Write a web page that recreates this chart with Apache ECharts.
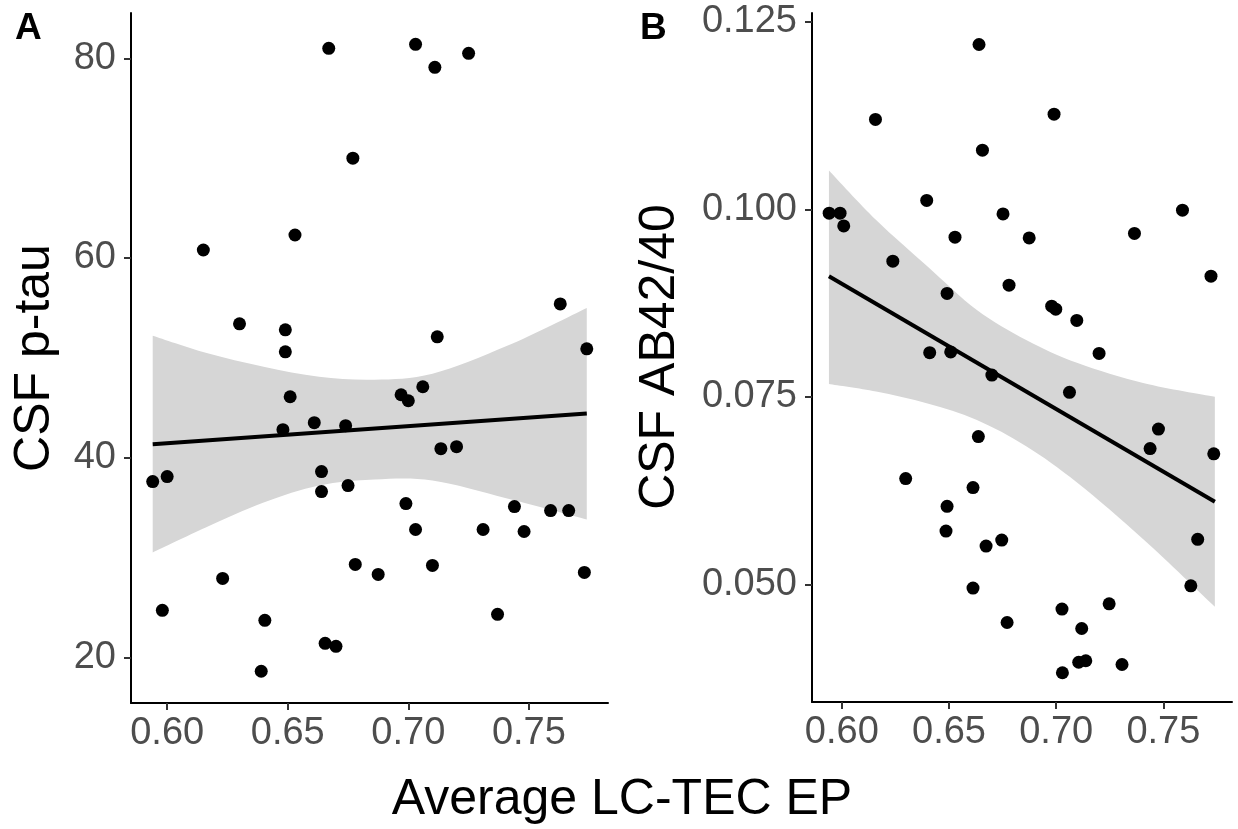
<!DOCTYPE html>
<html>
<head>
<meta charset="utf-8">
<script src="https://cdn.jsdelivr.net/npm/echarts@6/dist/echarts.min.js"></script>
<style>
  html, body { margin: 0; padding: 0; background: #ffffff; }
  #chart { width: 1238px; height: 829px; }
</style>
</head>
<body>
<div id="chart"></div>
<script>
// Panel A: CSF p-tau vs average LC-TEC EP
const lcTecA = [0.667, 0.703, 0.711, 0.725, 0.677, 0.615, 0.653, 0.763, 0.630, 0.649,
  0.649, 0.712, 0.774, 0.651, 0.697, 0.700, 0.706, 0.648, 0.661, 0.674,
  0.7135, 0.720, 0.594, 0.600, 0.664, 0.664, 0.675, 0.699, 0.703, 0.731,
  0.744, 0.748, 0.759, 0.7665, 0.623, 0.678, 0.6875, 0.710, 0.773, 0.598,
  0.6405, 0.737, 0.6655, 0.670, 0.639];
const pTau = [81.0, 81.4, 79.1, 80.5, 70.0, 60.8, 62.3, 55.4, 53.4, 52.8,
  50.6, 52.1, 50.9, 46.1, 46.3, 45.7, 47.1, 42.8, 43.5, 43.2,
  40.9, 41.1, 37.6, 38.1, 38.6, 36.6, 37.2, 35.4, 32.8, 32.8,
  35.1, 32.6, 34.7, 34.7, 27.9, 29.3, 28.3, 29.2, 28.5, 24.7,
  23.7, 24.3, 21.4, 21.1, 18.6];

// Panel B: CSF AB42/40 vs average LC-TEC EP
const lcTecB = [0.664, 0.6157, 0.699, 0.6656, 0.6396, 0.5941, 0.5992, 0.6009, 0.6752, 0.7589,
  0.6528, 0.6874, 0.7365, 0.6238, 0.7722, 0.6491, 0.6780, 0.6979, 0.6998, 0.7096,
  0.6410, 0.6508, 0.7200, 0.6700, 0.7062, 0.7477, 0.7438, 0.7735, 0.6637, 0.6298,
  0.6612, 0.6491, 0.6486, 0.6673, 0.6746, 0.7660, 0.6612, 0.7628, 0.6771, 0.7027,
  0.7247, 0.7119, 0.7105, 0.7138, 0.7307, 0.7029];
const ab4240 = [0.1220, 0.1120, 0.1127, 0.1079, 0.1012, 0.0995, 0.0995, 0.0978, 0.0994, 0.0999,
  0.0963, 0.0962, 0.0968, 0.0931, 0.0911, 0.0888, 0.0899, 0.0871, 0.0867, 0.0852,
  0.0809, 0.0810, 0.0808, 0.0779, 0.0756, 0.0707, 0.0681, 0.0674, 0.0697, 0.0641,
  0.0629, 0.0604, 0.0571, 0.0551, 0.0559, 0.0560, 0.0495, 0.0498, 0.0449, 0.0467,
  0.0474, 0.0441, 0.0396, 0.0398, 0.0393, 0.0382];

// Linear fits and their 95% confidence bands
const fitX = [0.594, 0.774];
const fitPTau = [41.33, 44.43];
const fitAB = [0.0911, 0.0610];
const bandX = [0.594, 0.616, 0.640, 0.663, 0.686, 0.710, 0.741, 0.774];
const bandLowPTau = [30.5, 33.0, 35.5, 37.2, 37.8, 37.7, 35.9, 33.8];
const bandHighPTau = [52.2, 50.5, 49.1, 48.1, 47.8, 48.4, 51.2, 55.0];
const bandLowAB = [0.0767, 0.0757, 0.0741, 0.0719, 0.0684, 0.0635, 0.0559, 0.0470];
const bandHighAB = [0.1052, 0.0986, 0.0924, 0.0866, 0.0826, 0.0795, 0.0768, 0.0750];

// Tick labels
const xTicks = [0.60, 0.65, 0.70, 0.75];
const yTicksPTau = [20, 40, 60, 80];
const yTicksAB = [0.050, 0.075, 0.100, 0.125];

const FONT = "'Liberation Sans', Arial, Helvetica, sans-serif";
const zip = (xs, ys) => xs.map((x, i) => [x, ys[i]]);

function xAxisFor(gridIndex, min, max) {
  return {
    type: 'value', gridIndex, min, max, z: 10,
    axisLine: { show: true, onZero: false, lineStyle: { color: '#000000', width: 2 } },
    axisTick: { show: true, length: 7, customValues: xTicks, lineStyle: { color: '#333333', width: 2 } },
    axisLabel: { customValues: xTicks, margin: 12, color: '#4d4d4d', fontSize: 38, fontFamily: FONT,
      formatter: v => v.toFixed(2) },
    splitLine: { show: false }
  };
}
function yAxisFor(gridIndex, min, max, ticks, digits) {
  return {
    type: 'value', gridIndex, min, max, z: 10,
    axisLine: { show: true, onZero: false, lineStyle: { color: '#000000', width: 2 } },
    axisTick: { show: true, length: 7, customValues: ticks, lineStyle: { color: '#333333', width: 2 } },
    axisLabel: { customValues: ticks, margin: 15, color: '#4d4d4d', fontSize: 38, fontFamily: FONT,
      formatter: v => v.toFixed(digits) },
    splitLine: { show: false }
  };
}

// Smooth path (Catmull-Rom as cubic Béziers) through pixel points; continues from the current point.
function splineSegments(pts) {
  let d = '';
  for (let i = 0; i < pts.length - 1; i++) {
    const p0 = pts[Math.max(i - 1, 0)], p1 = pts[i], p2 = pts[i + 1], p3 = pts[Math.min(i + 2, pts.length - 1)];
    const c1 = [p1[0] + (p2[0] - p0[0]) / 6, p1[1] + (p2[1] - p0[1]) / 6];
    const c2 = [p2[0] - (p3[0] - p1[0]) / 6, p2[1] - (p3[1] - p1[1]) / 6];
    d += ' C' + c1[0] + ' ' + c1[1] + ' ' + c2[0] + ' ' + c2[1] + ' ' + p2[0] + ' ' + p2[1];
  }
  return d;
}

// Confidence band drawn as one closed shape between its lower and upper edges.
function bandSeries(idx, lo, hi) {
  return {
    type: 'custom', xAxisIndex: idx, yAxisIndex: idx, silent: true, z: 1,
    data: [[bandX[0], lo[0]]],
    renderItem: (params, api) => {
      const upper = bandX.map((x, i) => api.coord([x, hi[i]]));
      const lower = bandX.map((x, i) => api.coord([x, lo[i]])).reverse();
      const d = 'M' + upper[0][0] + ' ' + upper[0][1] + splineSegments(upper) +
        ' L' + lower[0][0] + ' ' + lower[0][1] + splineSegments(lower) + ' Z';
      return { type: 'path', shape: { pathData: d }, style: { fill: '#d6d6d6', stroke: null } };
    }
  };
}

function panelSeries(idx, xs, ys, lo, hi, fit) {
  return [
    bandSeries(idx, lo, hi),
    { type: 'line', xAxisIndex: idx, yAxisIndex: idx, symbol: 'none', silent: true, z: 2,
      lineStyle: { color: '#000000', width: 4 },
      data: zip(fitX, fit) },
    { type: 'scatter', xAxisIndex: idx, yAxisIndex: idx, symbolSize: 13, z: 3,
      itemStyle: { color: '#000000', opacity: 1 },
      data: zip(xs, ys) }
  ];
}

const chart = echarts.init(document.getElementById('chart'), null, { renderer: 'canvas' });
chart.setOption({
  animation: false,
  backgroundColor: '#ffffff',
  grid: [
    { left: 131, top: 13, width: 477, height: 690 },
    { left: 812, top: 13, width: 420, height: 689 }
  ],
  xAxis: [xAxisFor(0, 0.585, 0.7828), xAxisFor(1, 0.5861, 0.7820)],
  yAxis: [yAxisFor(0, 15.42, 84.54, yTicksPTau, 0), yAxisFor(1, 0.0343, 0.1262, yTicksAB, 3)],
  series: [
    ...panelSeries(0, lcTecA, pTau, bandLowPTau, bandHighPTau, fitPTau),
    ...panelSeries(1, lcTecB, ab4240, bandLowAB, bandHighAB, fitAB)
  ],
  graphic: [
    { type: 'text', x: 15, y: 29, style: { text: 'A', font: 'bold 37px ' + FONT, fill: '#000000', textVerticalAlign: 'middle' } },
    { type: 'text', x: 640, y: 29, style: { text: 'B', font: 'bold 37px ' + FONT, fill: '#000000', textVerticalAlign: 'middle' } },
    { type: 'text', x: 35, y: 358, rotation: Math.PI / 2,
      style: { text: 'CSF p-tau', font: '50px ' + FONT, fill: '#000000', textAlign: 'center', textVerticalAlign: 'middle' } },
    { type: 'text', x: 660, y: 357, rotation: Math.PI / 2,
      style: { text: 'CSF AB42/40', font: '50px ' + FONT, fill: '#000000', textAlign: 'center', textVerticalAlign: 'middle' } },
    { type: 'text', x: 622, y: 800, style: { text: 'Average LC-TEC EP', font: '50px ' + FONT, fill: '#000000', textAlign: 'center', textVerticalAlign: 'middle' } }
  ]
});
</script>
</body>
</html>
